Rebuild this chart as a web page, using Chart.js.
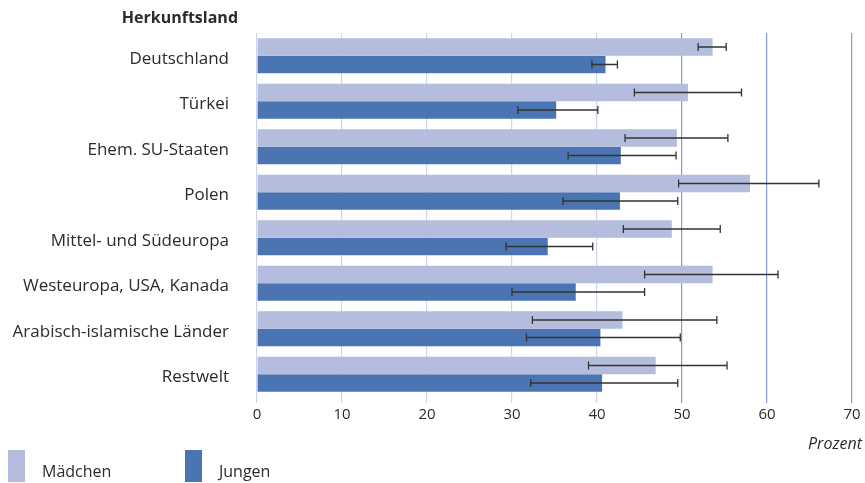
<!DOCTYPE html>
<html>
<head>
<meta charset="utf-8">
<script src="https://cdn.jsdelivr.net/npm/chart.js@4/dist/chart.umd.min.js"></script>
<style>
  html, body { margin: 0; padding: 0; background: #fff; }
  #wrap { width: 865px; height: 483px; position: relative; }
</style>
</head>
<body>
<div id="wrap"><canvas id="chart"></canvas></div>
<script>
const laender = [
  "Deutschland", "Türkei", "Ehem. SU-Staaten", "Polen",
  "Mittel- und Südeuropa", "Westeuropa, USA, Kanada",
  "Arabisch-islamische Länder", "Restwelt"
];
const maedchen      = [53.6, 50.7, 49.4, 58.0, 48.8, 53.6, 43.0, 46.9];
const maedchenLow   = [51.9, 44.4, 43.3, 49.6, 43.1, 45.6, 32.4, 39.0];
const maedchenHigh  = [55.2, 57.0, 55.4, 66.1, 54.5, 61.3, 54.1, 55.3];
const jungen        = [41.0, 35.2, 42.8, 42.7, 34.2, 37.5, 40.4, 40.6];
const jungenLow     = [39.4, 30.7, 36.6, 36.0, 29.3, 30.0, 31.7, 32.2];
const jungenHigh    = [42.4, 40.1, 49.3, 49.5, 39.5, 45.6, 49.8, 49.5];

const textColor = "#2b2b2b";
const fontFamily = "'Open Sans', Lato, sans-serif";

// whiskers for the confidence intervals
const errorBars = {
  id: "errorBars",
  afterDatasetsDraw(chart) {
    const ctx = chart.ctx;
    const x = chart.scales.x;
    const ranges = [[maedchenLow, maedchenHigh], [jungenLow, jungenHigh]];
    ctx.save();
    ctx.strokeStyle = "#333";
    ctx.lineWidth = 1.3;
    ranges.forEach((r, i) => {
      chart.getDatasetMeta(i).data.forEach((bar, j) => {
        const x1 = x.getPixelForValue(r[0][j]);
        const x2 = x.getPixelForValue(r[1][j]);
        const y = bar.y;
        ctx.beginPath();
        ctx.moveTo(x1, y); ctx.lineTo(x2, y);
        ctx.moveTo(x1, y - 4); ctx.lineTo(x1, y + 4);
        ctx.moveTo(x2, y - 4); ctx.lineTo(x2, y + 4);
        ctx.stroke();
      });
    });
    ctx.restore();
  }
};

// axis heading, unit label and legend
const extras = {
  id: "extras",
  afterDraw(chart) {
    const ctx = chart.ctx;
    ctx.save();
    ctx.fillStyle = textColor;
    ctx.font = "bold 16px " + fontFamily;
    ctx.textAlign = "right";
    ctx.textBaseline = "middle";
    ctx.fillText("Herkunftsland", 238, 18);

    ctx.font = "italic 16px " + fontFamily;
    ctx.fillText("Prozent", 862, 444);

    const items = [[8, 42], [185, 219]];
    ctx.font = "16px " + fontFamily;
    ctx.textAlign = "left";
    chart.data.datasets.forEach((ds, i) => {
      ctx.fillStyle = ds.backgroundColor;
      ctx.fillRect(items[i][0], 450, 17, 32);
      ctx.fillStyle = textColor;
      ctx.fillText(ds.label, items[i][1], 472);
    });
    ctx.restore();
  }
};

new Chart(document.getElementById("chart"), {
  type: "bar",
  data: {
    labels: laender,
    datasets: [
      { label: "Mädchen", data: maedchen, backgroundColor: "#b4bddd" },
      { label: "Jungen", data: jungen, backgroundColor: "#4a74b2" }
    ]
  },
  options: {
    indexAxis: "y",
    responsive: true,
    maintainAspectRatio: false,
    animation: false,
    barPercentage: 1,
    categoryPercentage: 0.77,
    layout: { padding: { top: 33, right: 13, left: 0, bottom: 0 } },
    plugins: { legend: { display: false }, tooltip: { enabled: false } },
    scales: {
      x: {
        min: 0,
        max: 70,
        ticks: { stepSize: 10, color: textColor, padding: 3, font: { family: fontFamily, size: 15 } },
        grid: {
          tickLength: 6,
          lineWidth: 1.2,
          color: (c) => (c.tick && c.tick.value >= 50 ? "#7f9bd0" : "#cdd6ec")
        },
        border: { display: false },
        afterFit(scale) { scale.height = 86; }
      },
      y: {
        grid: { display: false },
        border: { display: false },
        ticks: { color: textColor, padding: 20, labelOffset: 3, font: { family: fontFamily, size: 17 } },
        afterFit(scale) { scale.width = 257; }
      }
    }
  },
  plugins: [errorBars, extras]
});
</script>
</body>
</html>
